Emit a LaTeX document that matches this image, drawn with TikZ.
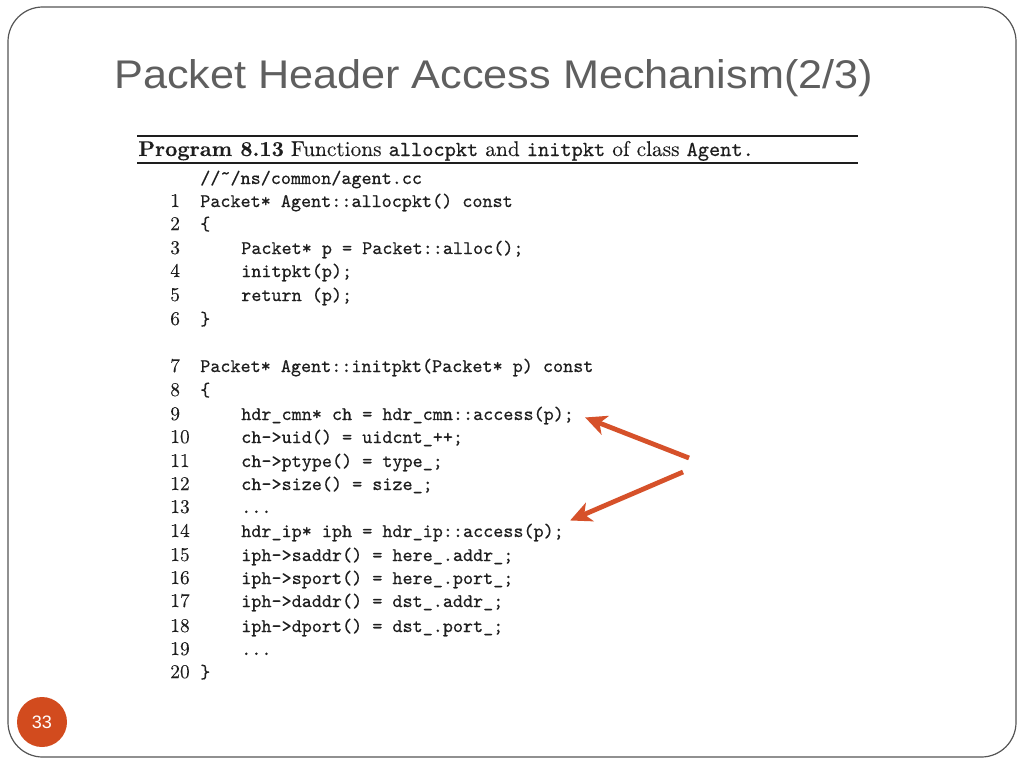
\documentclass[tikz,border=0pt]{standalone}
\usepackage{fontspec}
\newfontfamily\titlefont{Liberation Sans}[FakeStretch=1.08]
\newfontfamily\pagefont{Liberation Sans}
\newfontfamily\codefont{lmmono10-regular.otf}[FakeBold=0.5]
\newfontfamily\romfont{lmroman10-regular.otf}[BoldFont=lmroman10-bold.otf,FakeBold=0.15]
\usetikzlibrary{arrows.meta,calc}
\definecolor{accent}{HTML}{D6512A}
\definecolor{badge}{HTML}{D24B1E}
\definecolor{framegray}{HTML}{555555}
\definecolor{titlegray}{HTML}{5F5F5F}
\definecolor{ink}{HTML}{1E1E1E}
\newcommand{\ct}[1]{{\codefont #1}}
\begin{document}
\begin{tikzpicture}[x=0.75pt,y=-0.75pt,
  code/.style={anchor=base west,inner sep=0pt,text=ink,font=\fontsize{14.4}{17}\selectfont\codefont},
  num/.style={anchor=base west,inner sep=0pt,text=ink,font=\fontsize{14.6}{17}\selectfont\romfont},
  arr/.style={accent,line width=3.6pt,-{Stealth[length=16pt,width=15pt,inset=4.5pt]}}]
\fill[white] (0,0) rectangle (1024,768);
\useasboundingbox (0,0) rectangle (1024,768);
\draw[framegray,line width=0.9pt,rounded corners=26pt] (8,7) rectangle (1016,757);
% title
\node[anchor=base west,inner sep=0pt,text=titlegray,font=\titlefont\fontsize{30}{36}\selectfont] (title) at (114,88) {Packet Header Access Mechanism(2/3)};
% caption and rules
\draw[ink,line width=1.5pt] (137,136) -- (858,136);
\draw[ink,line width=0.9pt] (137,163) -- (858,163);
\node[anchor=base west,inner sep=0pt,text=ink,font=\fontsize{16.0}{19}\selectfont\romfont] (cap) at (138,156) {\textbf{Program 8.13} Functions \ct{allocpkt} and \ct{initpkt} of class \ct{Agent.}};
% code
\node[code] (c0) at (200,184) {//\char"02DC/ns/common/agent.cc};
\node[num] (n1) at (170,207) {1};  \node[code] (l1) at (200,207) {Packet* Agent::allocpkt() const};
\node[num] (n2) at (170,230) {2};  \node[code] (l2) at (200,230) {\{};
\node[num] (n3) at (170,254) {3};  \node[code] (l3) at (241,254) {Packet* p = Packet::alloc();};
\node[num] (n4) at (170,277) {4};  \node[code] (l4) at (241,277) {initpkt(p);};
\node[num] (n5) at (170,301) {5};  \node[code] (l5) at (241,301) {return (p);};
\node[num] (n6) at (170,325) {6};  \node[code] (l6) at (200,325) {\}};
\node[num] (n7) at (170,372) {7};  \node[code] (l7) at (200,372) {Packet* Agent::initpkt(Packet* p) const};
\node[num] (n8) at (170,396) {8};  \node[code] (l8) at (200,396) {\{};
\node[num] (n9) at (170,420) {9};  \node[code] (l9) at (241,420) {hdr\_cmn* ch = hdr\_cmn::access(p);};
\node[num] (n10) at (170,443) {10}; \node[code] (l10) at (241,443) {ch->uid() = uidcnt\_++;};
\node[num] (n11) at (170,467) {11}; \node[code] (l11) at (241,467) {ch->ptype() = type\_;};
\node[num] (n12) at (170,490) {12}; \node[code] (l12) at (241,490) {ch->size() = size\_;};
\node[num] (n13) at (170,513) {13}; \node[code] (l13) at (241,513) {...};
\node[num] (n14) at (170,537) {14}; \node[code] (l14) at (241,537) {hdr\_ip* iph = hdr\_ip::access(p);};
\node[num] (n15) at (170,561) {15}; \node[code] (l15) at (241,561) {iph->saddr() = here\_.addr\_;};
\node[num] (n16) at (170,584) {16}; \node[code] (l16) at (241,584) {iph->sport() = here\_.port\_;};
\node[num] (n17) at (170,607) {17}; \node[code] (l17) at (241,607) {iph->daddr() = dst\_.addr\_;};
\node[num] (n18) at (170,632) {18}; \node[code] (l18) at (241,632) {iph->dport() = dst\_.port\_;};
\node[num] (n19) at (170,655) {19}; \node[code] (l19) at (241,655) {...};
\node[num] (n20) at (170,678) {20}; \node[code] (l20) at (200,678) {\}};
% arrows
\coordinate (t1) at (689,458);
\coordinate (t2) at (683,472);
\draw[arr] (t1) -- ($(l9.east)+(11,2)$);
\draw[arr] (t2) -- ($(l14.east)+(6,-12)$);
% page number
\node[circle,fill=badge,minimum size=37.5pt,inner sep=0pt,text=white,font=\pagefont\fontsize{13.5}{16}\selectfont] (pg) at (42,722) {33};
\end{tikzpicture}
\end{document}
